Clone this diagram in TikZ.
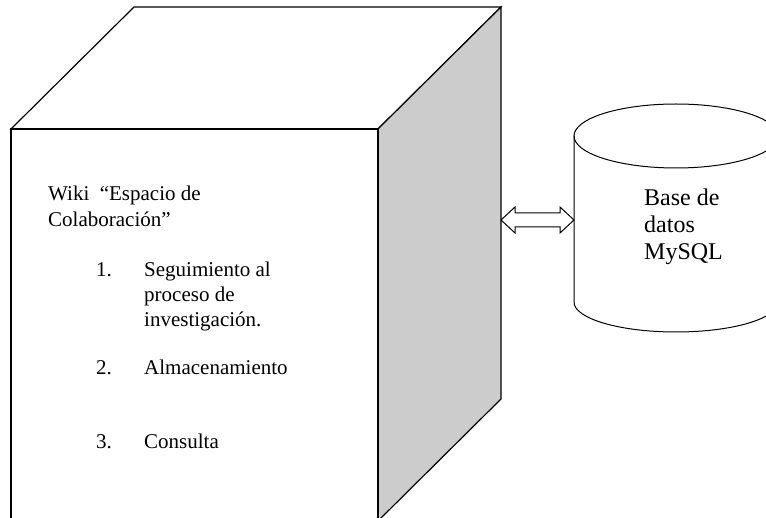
\documentclass[tikz,border=0pt]{standalone}
\usepackage{fontspec}
\setmainfont{Liberation Serif}
\usepackage{tikz}
\usetikzlibrary{calc}
\tikzset{
 face/.style={draw=black,line width=1.2pt,line join=miter},
 sideface/.style={face,fill=gray!40},
 cyl/.style={draw=black,line width=1pt},
 blockarrow/.style={draw=black,line width=1pt,fill=white,line join=miter},
 txt/.style={anchor=base west,inner sep=0pt,font=\fontsize{21}{25}\selectfont},
 dbtxt/.style={anchor=base west,inner sep=0pt,font=\fontsize{24}{27}\selectfont}
}
\begin{document}
\begin{tikzpicture}[x=1pt,y=-1pt]
\useasboundingbox (0,0) rectangle (766,518);
\path (11,129) coordinate (ftl);
\path (378,129) coordinate (ftr);
\path (134,7) coordinate (btl);
\path (501,7) coordinate (btr);
\path (501,399) coordinate (bbr);
\path (378,521) coordinate (fbr);
\path (11,521) coordinate (fbl);

\draw[face] (ftl) -- (btl) -- (btr) -- (ftr) -- cycle;
\draw[sideface] (ftr) -- (btr) -- (bbr) -- (fbr) -- cycle;
\draw[face] (ftl) -- (ftr) -- (fbr) -- (fbl) -- cycle;

\path (676,136) coordinate (cyltop);
\path (676,302) coordinate (cylbot);
\draw[cyl] (cyltop) ellipse [x radius=102,y radius=32];
\draw[cyl] ($(cyltop)+(-102,0)$) -- ($(cylbot)+(-102,0)$)
  arc [start angle=180,end angle=360,x radius=102,y radius=-30]
  -- ($(cyltop)+(102,0)$);

\path (501,220) coordinate (arrL);
\path (574,220) coordinate (arrR);
\draw[blockarrow] (arrL) -- ($(arrL)+(14,-13)$) -- ($(arrL)+(14,-7)$)
  -- ($(arrR)+(-14,-7)$) -- ($(arrR)+(-14,-13)$) -- (arrR)
  -- ($(arrR)+(-14,13)$) -- ($(arrR)+(-14,7)$)
  -- ($(arrL)+(14,7)$) -- ($(arrL)+(14,13)$) -- cycle;

\path (48,201) node[txt,name=wiki] {Wiki~~“Espacio de};
\path (48,227) node[txt,name=colab] {Colaboración”};

\path (96,277) node[txt,name=n1] {1.};
\path (144,277) node[txt,name=seg] {Seguimiento al};
\path (144,302) node[txt,name=proc] {proceso de};
\path (144,327) node[txt,name=inv] {investigación.};

\path (96,375) node[txt,name=n2] {2.};
\path (144,375) node[txt,name=alm] {Almacenamiento};

\path (96,449) node[txt,name=n3] {3.};
\path (144,449) node[txt,name=cons] {Consulta};

\path (644,206) node[dbtxt,name=base] {Base de};
\path (644,233) node[dbtxt,name=datos] {datos};
\path (644,260) node[dbtxt,name=mysql] {MySQL};
\end{tikzpicture}
\end{document}
